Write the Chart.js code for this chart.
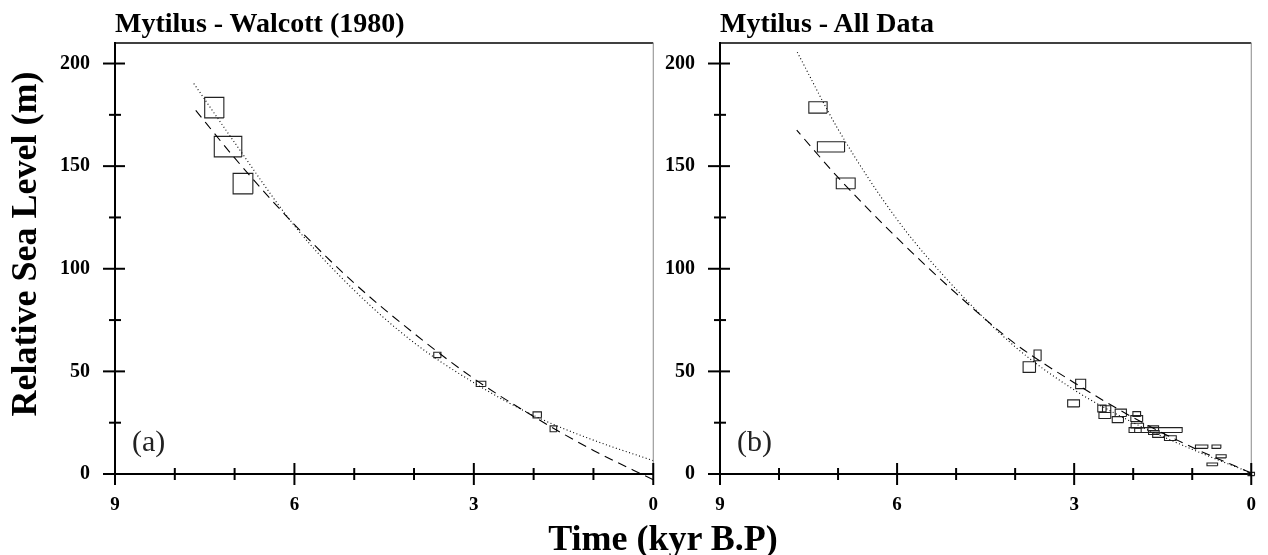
<!DOCTYPE html>
<html>
<head>
<meta charset="utf-8">
<script src="https://cdn.jsdelivr.net/npm/chart.js@4.4.0/dist/chart.umd.min.js"></script>
<style>
  body { margin: 0; background: #fff; }
  #wrap { position: relative; width: 1268px; height: 555px; overflow: hidden; background: #fff; }
  .box { position: absolute; }
  .txt { position: absolute; font-family: "Liberation Serif", "Times New Roman", serif; color: #000; white-space: nowrap; }
  .ptitle { font-size: 28px; font-weight: bold; line-height: 28px; top: 9px; }
  .tag { font-size: 30px; line-height: 30px; top: 426px; color: #222; }
</style>
</head>
<body>
<div id="wrap">
  <div class="box" style="left:0;top:0;"><canvas id="chartA" width="670" height="555"></canvas></div>
  <div class="box" style="left:660px;top:0;"><canvas id="chartB" width="608" height="555"></canvas></div>
  <div class="txt ptitle" style="left:115px;">Mytilus - Walcott (1980)</div>
  <div class="txt ptitle" style="left:720px;">Mytilus - All Data</div>
  <div class="txt tag" style="left:132px;">(a)</div>
  <div class="txt tag" style="left:737px;">(b)</div>
  <div class="txt" style="left:663px;top:520px;transform:translateX(-50%);font-size:36px;font-weight:bold;line-height:36px;">Time (kyr B.P)</div>
  <div class="txt" style="left:-176px;top:226px;width:400px;height:36px;text-align:center;font-size:36px;font-weight:bold;line-height:36px;transform:rotate(-90deg);">Relative Sea Level (m)</div>
</div>
<script>
"use strict";

// fitted curves (kyr B.P -> m)
const fitTime = [0, 1, 2, 3, 4, 5, 6, 7, 7.7];
const walcottDotted = [6.5, 16.5, 28.5, 44.5, 64, 89.5, 121, 161.5, 191];
const walcottDashed = [-2.8, 11.5, 28, 46.5, 68.5, 93, 121.5, 154, 179];
const allDotted = [0.5, 12, 25, 41, 62, 90, 124, 168, 206];
const allDashed = [0.5, 13, 27.5, 44.5, 63.5, 88, 115, 144.5, 167.5];

// Walcott (1980) samples: centre and half-size of each error box
const walcottTime = [7.34, 7.11, 6.86, 3.61, 2.88, 1.94, 1.67];
const walcottLevel = [178.5, 159.5, 141.5, 58, 43.9, 28.8, 22];
const walcottTimeErr = [0.16, 0.23, 0.165, 0.06, 0.08, 0.07, 0.055];
const walcottLevelErr = [5, 5, 5, 1.3, 1.3, 1.45, 1.45];

// all Mytilus samples
const allTime = [7.34, 7.12, 6.87, 3.62, 3.76, 2.89, 3.01, 2.53, 2.45, 2.48, 2.21, 2.26, 1.94,
    1.94, 1.93, 1.62, 1.92, 1.66, 1.65, 1.57, 1.37, 0.84, 0.59, 0.51, 0.66, 0];
const allLevel = [178.6, 159.4, 141.6, 57.8, 52.1, 43.9, 34.4, 31.9, 31.6, 28.5, 29.8, 26.5, 29.2,
    27, 23.6, 21.4, 21.3, 22.3, 20.2, 18.9, 17.5, 13.3, 13.3, 8.6, 4.7, 0];
const allTimeErr = [0.155, 0.23, 0.16, 0.06, 0.105, 0.085, 0.1, 0.07, 0.07, 0.1, 0.095, 0.095, 0.065,
    0.1, 0.105, 0.45, 0.055, 0.09, 0.09, 0.1, 0.1, 0.105, 0.075, 0.085, 0.09, 0.055];
const allLevelErr = [2.75, 2.5, 2.65, 2.6, 2.6, 2.3, 1.7, 1.65, 1.65, 1.45, 1.8, 1.45, 1.2,
    1.45, 1.15, 1.2, 1.05, 1.15, 0.95, 1.05, 1.15, 0.8, 0.8, 0.75, 0.65, 0.8];

const xTicks = [0, 1, 2, 3, 4, 5, 6, 7, 8, 9];
const yTicks = [0, 25, 50, 75, 100, 125, 150, 175, 200];

const FONT = "'Liberation Serif', 'Times New Roman', serif";

function curve(values, dash) {
    return {
        data: fitTime.map((t, i) => ({ x: t, y: values[i] })),
        borderColor: "#000",
        borderWidth: 1.1,
        borderDash: dash,
        pointRadius: 0,
        cubicInterpolationMode: "monotone",
        clip: false
    };
}

function errorBoxes(times, levels, tErr, lErr) {
    return times.map((t, i) => {
        const x0 = t - tErr[i], x1 = t + tErr[i];
        const y0 = levels[i] - lErr[i], y1 = levels[i] + lErr[i];
        return {
            data: [{ x: x0, y: y0 }, { x: x1, y: y0 }, { x: x1, y: y1 }, { x: x0, y: y1 }, { x: x0, y: y0 }],
            borderColor: "#222",
            borderWidth: 1.1,
            pointRadius: 0,
            tension: 0,
            clip: false
        };
    });
}

// ticks that cross the axis line, long on labelled values
const crossTicks = {
    id: "crossTicks",
    afterDraw(chart) {
        const { ctx, chartArea } = chart;
        const sx = chart.scales.x, sy = chart.scales.y;
        ctx.save();
        // frame: top black, right grey
        ctx.strokeStyle = "#000";
        ctx.lineWidth = 1.5;
        ctx.beginPath();
        ctx.moveTo(chartArea.left, chartArea.top);
        ctx.lineTo(chartArea.right, chartArea.top);
        ctx.stroke();
        ctx.strokeStyle = "#888";
        ctx.lineWidth = 1;
        ctx.beginPath();
        ctx.moveTo(chartArea.right, chartArea.top);
        ctx.lineTo(chartArea.right, chartArea.bottom);
        ctx.stroke();

        ctx.strokeStyle = "#000";
        ctx.lineWidth = 2;
        xTicks.forEach(v => {
            const px = sx.getPixelForValue(v);
            const len = v % 3 === 0 ? 11 : 6;
            ctx.beginPath();
            ctx.moveTo(px, chartArea.bottom - len);
            ctx.lineTo(px, chartArea.bottom + len);
            ctx.stroke();
        });
        yTicks.forEach(v => {
            const py = sy.getPixelForValue(v);
            const big = v % 50 === 0;
            ctx.beginPath();
            ctx.moveTo(chartArea.left - (big ? 12 : 6), py);
            ctx.lineTo(chartArea.left + (big ? 10 : 6), py);
            ctx.stroke();
        });
        ctx.restore();
    }
};

function makeChart(id, datasets, yWidth, rightPad) {
    return new Chart(document.getElementById(id), {
        type: "line",
        data: { datasets },
        options: {
            responsive: false,
            animation: false,
            layout: { padding: { top: 43, right: rightPad, left: 0, bottom: 0 } },
            plugins: { legend: { display: false }, tooltip: { enabled: false } },
            scales: {
                x: {
                    type: "linear",
                    min: 0,
                    max: 9,
                    reverse: true,
                    afterFit: s => { s.height = 81; },
                    grid: { display: false },
                    border: { display: true, color: "#000", width: 2 },
                    ticks: {
                        stepSize: 1,
                        includeBounds: false,
                        padding: 12,
                        maxRotation: 0,
                        autoSkip: false,
                        color: "#000",
                        font: { family: FONT, size: 19, weight: "bold" },
                        callback: v => (v % 3 === 0 ? String(v) : "")
                    }
                },
                y: {
                    type: "linear",
                    min: 0,
                    max: 210,
                    afterFit: s => { s.width = yWidth; },
                    grid: { display: false },
                    border: { display: true, color: "#000", width: 2 },
                    ticks: {
                        stepSize: 25,
                        includeBounds: false,
                        padding: 17,
                        autoSkip: false,
                        color: "#000",
                        font: { family: FONT, size: 20, weight: "bold" },
                        callback: v => (v % 50 === 0 ? String(v) : "")
                    }
                }
            }
        },
        plugins: [crossTicks]
    });
}

makeChart("chartA", [
    curve(walcottDotted, [1, 2.5]),
    curve(walcottDashed, [9, 6]),
    ...errorBoxes(walcottTime, walcottLevel, walcottTimeErr, walcottLevelErr)
], 115, 15);

makeChart("chartB", [
    curve(allDotted, [1, 2.5]),
    curve(allDashed, [9, 6]),
    ...errorBoxes(allTime, allLevel, allTimeErr, allLevelErr)
], 60, 8);
</script>
</body>
</html>
